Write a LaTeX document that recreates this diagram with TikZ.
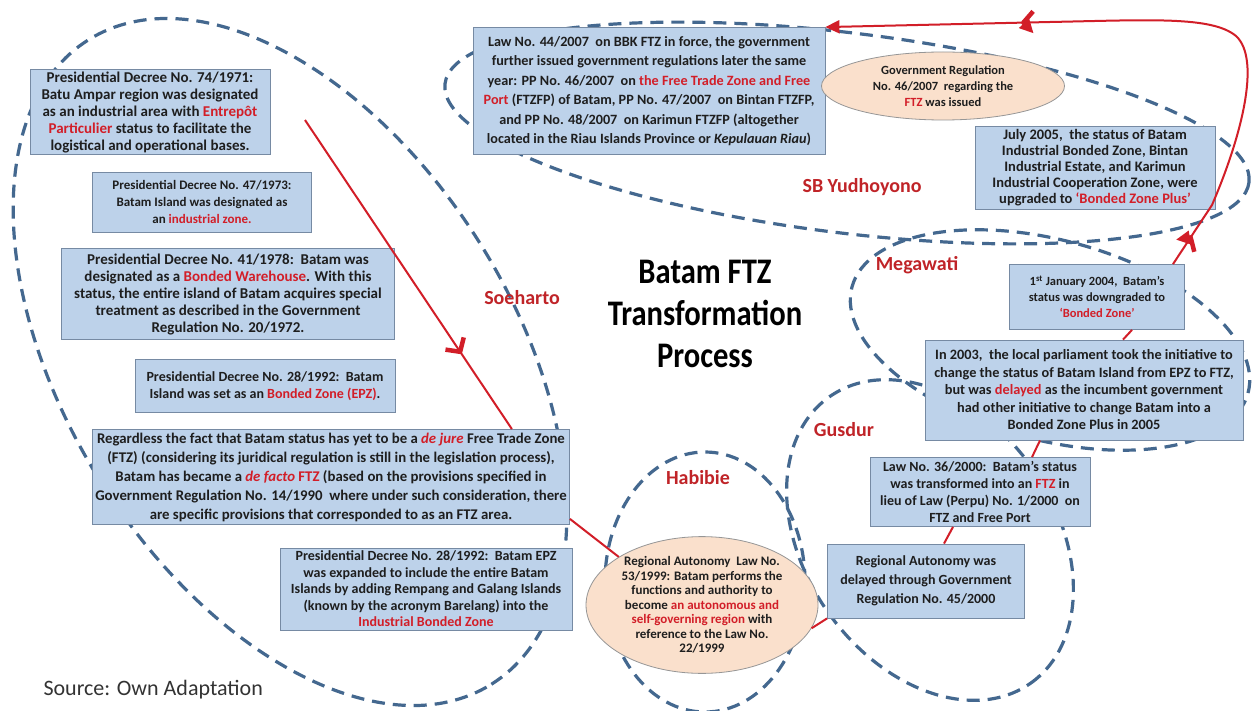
\documentclass[tikz,border=0pt]{standalone}
\usepackage{fontspec}
\setmainfont{Carlito}
\newfontfamily\titlefont[FakeStretch=0.85]{Carlito}
\usetikzlibrary{arrows.meta,shapes.geometric,decorations.markings}
\definecolor{boxfill}{RGB}{189,210,234}
\definecolor{boxline}{RGB}{118,138,163}
\definecolor{peach}{RGB}{250,224,204}
\definecolor{peachline}{RGB}{150,150,150}
\definecolor{eradash}{RGB}{68,104,143}
\definecolor{hired}{RGB}{210,30,40}
\definecolor{erared}{RGB}{192,36,40}
\definecolor{bodytxt}{RGB}{30,30,30}
\newcommand{\hl}[1]{\textcolor{hired}{#1}}
\newcommand{\fsz}[2]{\fontsize{#1}{#2}\selectfont}
\tikzset{
  decree/.style={draw=boxline, fill=boxfill, line width=0.8pt, align=center, inner sep=2pt, text=bodytxt},
  oval/.style={ellipse, draw=peachline, fill=peach, line width=0.8pt, align=center, inner sep=0pt, text=bodytxt},
  txtsz/.style 2 args={font=\bfseries\fsz{#1}{#2}},
  era/.style={draw=eradash, line width=3.2pt, dash pattern=on 13pt off 8pt},
  eralabel/.style={text=erared, font=\bfseries\fsz{20}{24}},
  flow/.style={draw=hired, line width=2pt},
  midbarb/.style={postaction={decorate, decoration={markings, mark=at position #1 with {\draw[hired, line width=4.5pt, line join=round] (-10pt,-11pt) -- (0pt,0pt) -- (-10pt,11pt);}}}}
}
\begin{document}
\begin{tikzpicture}[x=1pt, y=-1pt]
  \fill[white] (0,0) rectangle (1257,711);
  \useasboundingbox (0,0) rectangle (1257,711);

  % presidents
  \draw[era, rotate around={-58:(290,362)}] (290,362) ellipse [x radius=380pt, y radius=224pt];
  \draw[era, rotate around={-7:(847,133)}] (847,133) ellipse [x radius=405pt, y radius=100pt];
  \draw[era, rotate around={-15:(1050,340)}] (1050,340) ellipse [x radius=205pt, y radius=100pt];
  \draw[era, rotate around={-55:(930,540)}] (930,540) ellipse [x radius=175pt, y radius=125pt];
  \draw[era] (705,582) ellipse [x radius=100pt, y radius=130pt];

  % Soeharto
  \node[decree, txtsz={15}{17}, minimum width=240pt, minimum height=85pt] (pd74) at (150,112)
    {Presidential Decree No. 74/1971:\\Batu Ampar region was designated\\as an industrial area with \hl{Entrepôt}\\\hl{Particulier} status to facilitate the\\logistical and operational bases.};
  \node[decree, txtsz={13}{17}, minimum width=219pt, minimum height=60pt] (pd47) at (202,202)
    {Presidential Decree No. 47/1973:\\Batam Island was designated as\\an \hl{industrial zone.}};
  \node[decree, txtsz={15}{17}, minimum width=333pt, minimum height=91pt] (pd41) at (228,294)
    {Presidential Decree No. 41/1978:\ \ Batam was\\designated as a \hl{Bonded Warehouse}. With this\\status, the entire island of Batam acquires special\\treatment as described in the Government\\Regulation No. 20/1972.};
  \node[decree, txtsz={14}{17}, minimum width=260pt, minimum height=53pt] (pd28) at (265,386)
    {Presidential Decree No. 28/1992:\ \ Batam\\Island was set as an \hl{Bonded Zone (EPZ)}.};
  \node[decree, txtsz={14.8}{19}, minimum width=477pt, minimum height=95pt] (regard) at (331,477)
    {Regardless the fact that Batam status has yet to be a \hl{\textit{de jure}} Free Trade Zone\\(FTZ) (considering its juridical regulation is still in the legislation process),\\Batam has became a \hl{\textit{de facto} FTZ} (based on the provisions specified in\\Government Regulation No. 14/1990\ \ where under such consideration, there\\are specific provisions that corresponded to as an FTZ area.};
  \node[decree, txtsz={14}{16.5}, minimum width=292pt, minimum height=82pt] (barelang) at (426,589)
    {Presidential Decree No. 28/1992:\ \ Batam EPZ\\was expanded to include the entire Batam\\Islands by adding Rempang and Galang Islands\\(known by the acronym Barelang) into the\\\hl{Industrial Bonded Zone}};

  % Habibie, Gusdur, Megawati
  \node[oval, txtsz={13}{14.5}, minimum width=232pt, minimum height=122pt] (autonomy) at (702,605)
    {Regional Autonomy\ \ Law No.\\53/1999: Batam performs the\\functions and authority to\\become \hl{an autonomous and}\\\hl{self-governing region} with\\reference to the Law No.\\22/1999};
  \node[decree, txtsz={14}{19}, minimum width=197pt, minimum height=74pt] (delay) at (926,581)
    {Regional Autonomy was\\delayed through Government\\Regulation No. 45/2000};
  \node[decree, txtsz={14}{17}, minimum width=220pt, minimum height=69pt] (perpu) at (980,492)
    {Law No. 36/2000:\ \ Batam's status\\was transformed into an \hl{FTZ} in\\lieu of Law (Perpu) No. 1/2000\ \ on\\FTZ and Free Port};
  \node[decree, txtsz={14.3}{17.5}, minimum width=318pt, minimum height=100pt] (parliament) at (1084,390)
    {In 2003,\ \ the local parliament took the initiative to\\change the status of Batam Island from EPZ to FTZ,\\but was \hl{delayed} as the incumbent government\\had other initiative to change Batam into a\\Bonded Zone Plus in 2005};
  \node[decree, txtsz={12.5}{16}, minimum width=175pt, minimum height=65pt] (downgrade) at (1097,297)
    {1\textsuperscript{st} January 2004,\ \ Batam's\\status was downgraded to\\\hl{`Bonded Zone'}};

  % SB Yudhoyono
  \node[decree, txtsz={14.5}{16}, minimum width=240pt, minimum height=83pt] (plus) at (1095,168)
    {July 2005,\ \ the status of Batam\\Industrial Bonded Zone, Bintan\\Industrial Estate, and Karimun\\Industrial Cooperation Zone, were\\upgraded to \hl{`Bonded Zone Plus'}};
  \node[decree, txtsz={14.2}{19.5}, minimum width=352pt, minimum height=127pt] (bbk) at (649,91)
    {Law No. 44/2007\ \ on BBK FTZ in force, the government\\further issued government regulations later the same\\year: PP No. 46/2007\ \ on \hl{the Free Trade Zone and Free}\\\hl{Port} (FTZFP) of Batam, PP No. 47/2007\ \ on Bintan FTZFP,\\and PP No. 48/2007\ \ on Karimun FTZFP (altogether\\located in the Riau Islands Province or \textit{Kepulauan Riau})};
  \node[oval, txtsz={12.5}{16}, minimum width=243pt, minimum height=68pt] (pp46) at (943,86)
    {Government Regulation\\No. 46/2007\ \ regarding the\\\hl{FTZ} was issued};

  % timeline
  \coordinate (start) at (305,120);
  \draw[flow, midbarb=0.75] (start) -- ([xshift=-58pt]regard.north east);
  \draw[flow] ([yshift=6pt]regard.south east) -- (autonomy.150);
  \draw[flow] (autonomy.-12) -- (delay.south west);
  \draw[flow] ([xshift=18pt]delay.north) -- ([xshift=-27pt]perpu.south);
  \draw[flow] ([xshift=52pt]perpu.north) -- ([xshift=-44pt]parliament.south);
  \draw[flow] ([xshift=39pt]parliament.north) -- ([xshift=35pt]downgrade.south);
  \draw[flow, midbarb=32pt, midbarb=-198pt, -{Triangle[length=14pt,width=13pt]}]
    ([xshift=76pt]downgrade.north) -- (1212,205) .. controls (1240,140) and (1262,60) .. (1236,36)
    .. controls (1212,16) and (1150,20) .. (1050,22) -- (bbk.north east);

  % labels
  \node[align=center, text=black, font=\titlefont\bfseries\fsz{36}{42}] (title) at (705,314) {Batam FTZ\\Transformation\\Process};
  \node[eralabel] (soeharto) at (522,298) {Soeharto};
  \node[eralabel] (sby) at (862,187) {SB Yudhoyono};
  \node[eralabel] (megawati) at (917,265) {Megawati};
  \node[eralabel] (gusdur) at (844,430) {Gusdur};
  \node[eralabel] (habibie) at (698,478) {Habibie};
  \node[anchor=west, text=black!80, font=\fsz{22}{26}] (source) at (40,690) {Source: Own Adaptation};
\end{tikzpicture}
\end{document}
